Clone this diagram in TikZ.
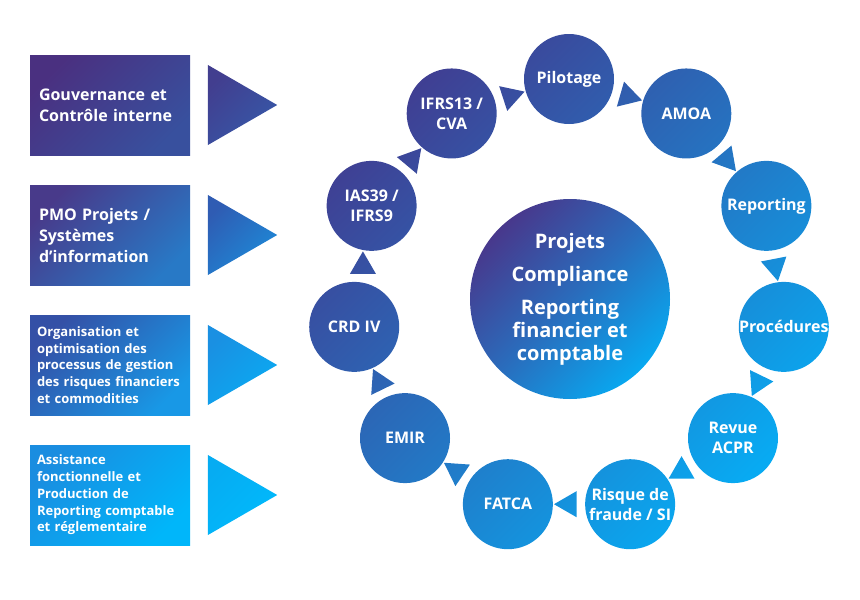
\documentclass[tikz,border=0pt]{standalone}
\usepackage{fontspec}
\setmainfont{Open Sans}
\usepackage{tikz}
\usetikzlibrary{shapes.geometric, positioning, calc, backgrounds}
\definecolor{cGouvA}{RGB}{74,48,128}
\definecolor{cGouvB}{RGB}{56,80,158}
\definecolor{cPmoA}{RGB}{72,58,138}
\definecolor{cPmoB}{RGB}{40,121,198}
\definecolor{cOrgaA}{RGB}{52,80,166}
\definecolor{cOrgaB}{RGB}{24,152,230}
\definecolor{cAssistA}{RGB}{26,141,224}
\definecolor{cAssistB}{RGB}{0,182,250}
\definecolor{cTriGouvA}{RGB}{66,62,143}
\definecolor{cTriGouvB}{RGB}{54,88,168}
\definecolor{cTriPmoA}{RGB}{47,92,179}
\definecolor{cTriPmoB}{RGB}{29,138,216}
\definecolor{cTriOrgaA}{RGB}{26,144,226}
\definecolor{cTriOrgaB}{RGB}{10,170,242}
\definecolor{cTriAssistA}{RGB}{6,172,242}
\definecolor{cTriAssistB}{RGB}{0,186,252}
\definecolor{cRingA}{RGB}{64,62,146}
\definecolor{cRingM}{RGB}{38,114,192}
\definecolor{cRingB}{RGB}{8,170,242}
\definecolor{cHubA}{RGB}{72,56,140}
\definecolor{cHubM}{RGB}{42,108,188}
\definecolor{cHubB}{RGB}{8,168,240}
\tikzset{
	sidebox/.style={rectangle, minimum width=160pt, minimum height=100pt, text width=142pt, inner xsep=9pt, outer sep=0pt, align=left, text=white, font=\bfseries\fontsize{16}{21}\selectfont},
	sidesmall/.style={text width=146pt, inner xsep=7pt, font=\bfseries\fontsize{13}{16.7}\selectfont},
	sidetri/.style={regular polygon, regular polygon sides=3, shape border rotate=-90, minimum size=92.4pt, inner sep=0pt, outer sep=0pt},
	ringnode/.style={circle, minimum size=90pt, inner sep=0pt, align=center, text=white, font=\bfseries\fontsize{16}{20}\selectfont},
	% hub in the middle of the ring
	hubnode/.style={circle, minimum size=200pt, inner sep=0pt, align=center, text=white, font=\bfseries\fontsize{20}{23}\selectfont},
}
\begin{document}
\begin{tikzpicture}[x=1pt, y=1pt]
	\useasboundingbox (0,0) rectangle (860,-600);
	% left column
	\node[sidebox, top color=cGouvA, bottom color=cGouvB, shading angle=45] (gouv) at (110,-105) {Gouvernance et\\Contrôle interne};
	\node[sidebox, top color=cPmoA, bottom color=cPmoB, shading angle=45, below=30pt of gouv] (pmo) {PMO Projets /\\Systèmes\\d’information};
	\node[sidebox, sidesmall, top color=cOrgaA, bottom color=cOrgaB, shading angle=45, below=30pt of pmo] (orga) {Organisation et\\optimisation des\\processus de gestion\\des risques financiers\\et commodities};
	\node[sidebox, sidesmall, top color=cAssistA, bottom color=cAssistB, shading angle=45, below=30pt of orga] (assist) {Assistance\\fonctionnelle et\\Production de\\Reporting comptable\\et réglementaire};
	\foreach \b/\ca/\cb in {gouv/cTriGouvA/cTriGouvB, pmo/cTriPmoA/cTriPmoB, orga/cTriOrgaA/cTriOrgaB, assist/cTriAssistA/cTriAssistB}
		\node[sidetri, top color=\ca, bottom color=\cb, shading angle=45] (tri-\b) at ($(\b.east)+(41,0)$) {};
	% ring
	\coordinate (o) at (569,-296);
	\foreach \n/\t [count=\i from 0] in {pil/Pilotage, amoa/AMOA, rep/Reporting, proc/Procédures, acpr/{Revue\\ACPR}, fraude/{Risque de\\fraude / SI}, fatca/FATCA, emir/EMIR, crd/CRD IV, ias/{IAS39 /\\IFRS9}, ifrs/{IFRS13 /\\CVA}}
		\node[ringnode] (\n) at ($(o)+({90-\i*360/11}:217)$) {\t};
	\begin{scope}[on background layer]
		\shade[top color=cRingA, bottom color=cRingB, middle color=cRingM, shading angle=45]
			foreach \n in {pil, amoa, rep, proc, acpr, fraude, fatca, emir, crd, ias, ifrs} {(\n.center) circle[radius=45]}
			foreach \a/\b/\r in {crd/ias/90, ias/ifrs/50, ifrs/pil/18, pil/amoa/-16, amoa/rep/-50, rep/proc/-79, proc/acpr/4, acpr/fraude/90, fraude/fatca/180, fatca/emir/-94, emir/crd/-4}
				{($(\a)!0.5!(\b)$) +(\r:15) -- +({\r+120}:15) -- +({\r+240}:15) -- cycle};
	\end{scope}
	\node[hubnode, top color=cHubA, bottom color=cHubB, middle color=cHubM, shading angle=45] (hub) at (570,-299) {Projets\\[10pt]Compliance\\[10pt]Reporting\\financier et\\comptable};
\end{tikzpicture}
\end{document}
